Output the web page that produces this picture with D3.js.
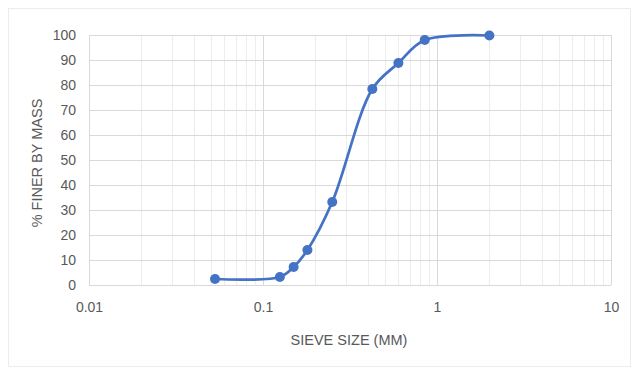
<!DOCTYPE html>
<html>
<head>
<meta charset="utf-8">
<script src="https://cdn.jsdelivr.net/npm/d3@7"></script>
<style>
  body { margin: 0; background: #fff; }
  text { font-family: "Liberation Sans", Arial, sans-serif; fill: #595959; }
</style>
</head>
<body>
<script>
// sieve sizes (mm) and percent passing
var sieveSize = [0.053, 0.125, 0.15, 0.18, 0.25, 0.425, 0.6, 0.85, 2.0];
var percentFiner = [2.4, 3.2, 7.2, 14, 33.2, 78.4, 88.8, 98, 99.8];
var yTicks = [0, 10, 20, 30, 40, 50, 60, 70, 80, 90, 100];
var xTicks = [0.01, 0.1, 1, 10];

var W = 632, H = 369;
var margin = {top: 35, right: 21, bottom: 84, left: 89},
    width = W - margin.left - margin.right,
    height = H - margin.top - margin.bottom;

var svg = d3.select("body").append("svg")
    .attr("width", W)
    .attr("height", H);

// outer chart border
svg.append("rect")
   .attr("x", 8.5).attr("y", 8.5)
   .attr("width", 622).attr("height", 358)
   .attr("fill", "none").attr("stroke", "#ececec");

var g = svg.append("g")
    .attr("transform", "translate(" + margin.left + "," + margin.top + ")");

var x = d3.scaleLog().domain([0.01, 10]).range([0, width]);
var y = d3.scaleLinear().domain([0, 100]).range([height, 0]);

// minor vertical grid
var minor = [];
[0.01, 0.1, 1].forEach(function (d) {
    for (var k = 2; k <= 9; k++) minor.push(d * k);
});
g.selectAll(".minor").data(minor).enter().append("line")
   .attr("x1", d => Math.round(x(d)) + 0.5).attr("x2", d => Math.round(x(d)) + 0.5)
   .attr("y1", 0).attr("y2", height)
   .attr("stroke", "#ededed");

// major vertical grid
g.selectAll(".vmajor").data(xTicks).enter().append("line")
   .attr("x1", d => Math.round(x(d)) + 0.5).attr("x2", d => Math.round(x(d)) + 0.5)
   .attr("y1", 0).attr("y2", height)
   .attr("stroke", "#d9d9d9");

// horizontal grid
g.selectAll(".hmajor").data(yTicks).enter().append("line")
   .attr("x1", 0).attr("x2", width)
   .attr("y1", d => Math.round(y(d)) + 0.5).attr("y2", d => Math.round(y(d)) + 0.5)
   .attr("stroke", "#d9d9d9");

// y axis labels
var yAxis = g.append("g").call(d3.axisLeft(y).tickValues(yTicks).tickSize(0).tickPadding(13));
yAxis.select(".domain").remove();
yAxis.selectAll("text").attr("font-size", 14).attr("fill", "#595959")
     .style("font-family", "'Liberation Sans', sans-serif");

// x axis labels
var xAxis = g.append("g")
   .attr("transform", "translate(0," + height + ")")
   .call(d3.axisBottom(x).tickValues(xTicks).tickFormat(d3.format("")).tickSize(0).tickPadding(17));
xAxis.select(".domain").remove();
xAxis.selectAll("text").attr("font-size", 14).attr("fill", "#595959")
     .style("font-family", "'Liberation Sans', sans-serif");

// axis titles
svg.append("text")
   .attr("x", margin.left + width / 2 - 1).attr("y", 345)
   .attr("text-anchor", "middle").attr("font-size", 14.5)
   .text("SIEVE SIZE (MM)");

svg.append("text")
   .attr("transform", "translate(42," + (margin.top + height / 2 + 3) + ") rotate(-90)")
   .attr("text-anchor", "middle").attr("font-size", 14.5)
   .text("% FINER BY MASS");

// data
var pts = sieveSize.map((d, i) => [d, percentFiner[i]]);

var line = d3.line()
   .x(d => x(d[0])).y(d => y(d[1]))
   .curve(d3.curveCatmullRom.alpha(0.5));

g.append("path").datum(pts)
   .attr("d", line)
   .attr("fill", "none")
   .attr("stroke", "#4472c4")
   .attr("stroke-width", 2.75);

g.selectAll(".pt").data(pts).enter().append("circle")
   .attr("cx", d => x(d[0])).attr("cy", d => y(d[1]))
   .attr("r", 5)
   .attr("fill", "#4472c4");
</script>
</body>
</html>
